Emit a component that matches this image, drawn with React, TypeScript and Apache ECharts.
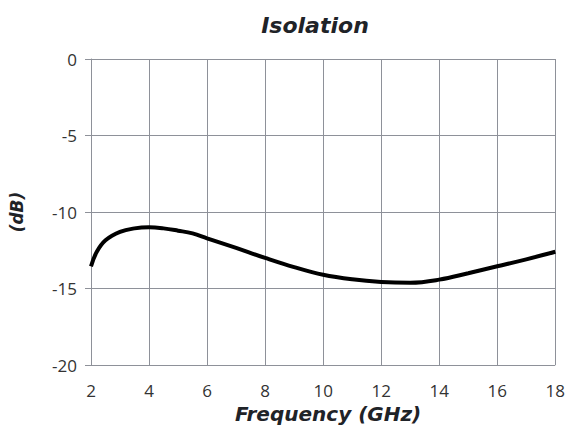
import React, { useEffect, useRef } from "react";
import * as echarts from "echarts";

const freqGHz = [2, 2.2, 2.5, 3, 3.5, 4, 4.5, 5, 5.5, 6, 7, 8, 9, 10, 11, 12, 13, 14, 15, 16, 17, 18];
const isolationDb = [-13.55, -12.6, -11.85, -11.3, -11.07, -11.0, -11.07, -11.22, -11.4, -11.72, -12.35, -13.0, -13.6, -14.1, -14.4, -14.57, -14.62, -14.42, -14.0, -13.55, -13.1, -12.6];

const titleText = "Isolation";
const xName = "Frequency (GHz)";
const yName = "(dB)";

export default function App() {
  const ref = useRef<HTMLDivElement>(null);
  useEffect(() => {
    if (!ref.current) return;
    const chart = echarts.init(ref.current, null, { renderer: "svg" });
    const gridColor = "#8e9199";
    const labelFont = { fontFamily: "'Open Sans', sans-serif", fontSize: 17, color: "#333333" };
    const nameFont = {
      fontFamily: "'DejaVu Sans', sans-serif",
      fontStyle: "italic",
      fontWeight: "bold",
      color: "#1f2328",
    };
    chart.setOption({
      animation: false,
      backgroundColor: "#ffffff",
      title: {
        text: titleText,
        left: 310,
        top: 9,
        textAlign: "center",
        textStyle: { ...nameFont, fontSize: 22 },
      },
      grid: { left: 88, right: 11, top: 59, bottom: 76, containLabel: false },
      xAxis: {
        type: "value",
        min: 2,
        max: 18,
        interval: 2,
        name: xName,
        nameLocation: "middle",
        nameGap: 32,
        nameTextStyle: { ...nameFont, fontSize: 20, padding: [0, 0, 0, 10] },
        axisLine: { show: true, lineStyle: { color: gridColor, width: 1 } },
        axisTick: { show: false },
        axisLabel: { ...labelFont, margin: 17 },
        splitLine: { show: true, lineStyle: { color: gridColor, width: 1 } },
      },
      yAxis: {
        type: "value",
        min: -20,
        max: 0,
        interval: 5,
        name: yName,
        nameLocation: "middle",
        nameGap: 66,
        nameRotate: 90,
        nameTextStyle: { ...nameFont, fontSize: 17 },
        axisLine: { show: true, lineStyle: { color: gridColor, width: 1 } },
        axisTick: { show: true, length: 6, lineStyle: { color: gridColor, width: 1 } },
        axisLabel: { ...labelFont, margin: 14 },
        splitLine: { show: true, lineStyle: { color: gridColor, width: 1 } },
      },
      series: [
        {
          type: "line",
          data: freqGHz.map((f, i) => [f, isolationDb[i]]),
          smooth: 0.4,
          showSymbol: false,
          lineStyle: { color: "#000000", width: 4 },
        },
      ],
    });
    return () => chart.dispose();
  }, []);
  return <div ref={ref} style={{ position: "fixed", left: 0, top: 0, width: 568, height: 441 }} />;
}
